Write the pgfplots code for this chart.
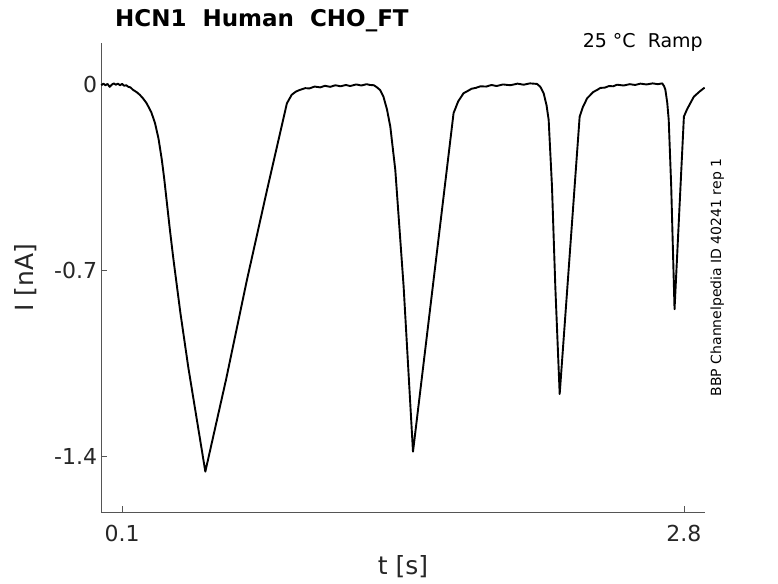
\documentclass[border=0pt]{standalone}
\usepackage{pgfplots}
\pgfplotsset{compat=1.18}
\usepackage{fontspec}
\setmainfont{DejaVu Sans}
\definecolor{axgray}{HTML}{555555}
\definecolor{lblgray}{HTML}{262626}
\begin{document}
\begin{tikzpicture}[x=1pt,y=1pt]
\path[use as bounding box] (0,0) rectangle (778,583);
\begin{axis}[
  at={(101.3pt,71pt)}, anchor=south west,
  scale only axis, width=603.4pt, height=469pt,
  xmin=0, xmax=2.9, ymin=-1.61, ymax=0.155,
  axis x line*=bottom, axis y line*=left,
  axis line style={-, draw=axgray, line width=0.8pt},
  tick style={draw=axgray, line width=0.8pt},
  tick align=inside, major tick length=6pt,
  xtick={0.1,2.8}, xticklabels={0.1,2.8},
  ytick={-1.4,-0.7,0}, yticklabels={-1.4,-0.7,{0\hspace{22pt}}},
  xticklabel style={anchor=base, yshift=-29.7pt, inner sep=0pt, text=lblgray, font=\fontsize{22}{26}\selectfont},
  yticklabel style={anchor=east, xshift=-4pt, inner sep=0pt, text=lblgray, font=\fontsize{22}{26}\selectfont},
  clip=false,
]
\addplot[black, line width=1.9pt, line join=round] coordinates {
(0.000,-0.004) (0.010,0.002) (0.020,-0.004) (0.030,0.001) (0.040,-0.010) (0.050,-0.002)
(0.060,0.003) (0.070,-0.002) (0.080,0.002) (0.090,-0.004) (0.100,0.001) (0.110,-0.006)
(0.120,-0.004) (0.130,-0.010) (0.140,-0.012) (0.152,-0.021) (0.170,-0.030) (0.185,-0.040)
(0.200,-0.053) (0.218,-0.072) (0.240,-0.105) (0.258,-0.146) (0.275,-0.205) (0.291,-0.285)
(0.303,-0.360) (0.315,-0.445) (0.330,-0.550) (0.346,-0.655) (0.380,-0.860) (0.418,-1.065)
(0.467,-1.300) (0.500,-1.458)
(0.600,-1.110) (0.699,-0.740) (0.796,-0.400) (0.892,-0.072) (0.915,-0.040) (0.935,-0.028)
(0.956,-0.021) (0.980,-0.015) (1.000,-0.016) (1.025,-0.009) (1.052,-0.012) (1.075,-0.006)
(1.100,-0.010) (1.125,-0.004) (1.150,-0.008) (1.175,-0.003) (1.196,-0.007) (1.225,-0.001)
(1.250,-0.005) (1.275,0.000) (1.292,-0.003) (1.310,-0.004) (1.325,-0.012) (1.340,-0.022)
(1.356,-0.047) (1.373,-0.095) (1.389,-0.160) (1.413,-0.323) (1.453,-0.762) (1.498,-1.383)
(1.600,-0.717) (1.693,-0.109) (1.715,-0.065) (1.741,-0.034) (1.760,-0.026) (1.780,-0.017)
(1.800,-0.014) (1.822,-0.008) (1.850,-0.009) (1.875,-0.003) (1.900,-0.007) (1.930,-0.001)
(1.966,-0.004) (2.000,0.002) (2.030,-0.002) (2.060,0.003) (2.094,0.001) (2.110,-0.010)
(2.126,-0.034) (2.140,-0.080) (2.150,-0.134) (2.166,-0.385) (2.182,-0.762) (2.203,-1.166)
(2.250,-0.655) (2.299,-0.122) (2.315,-0.085) (2.335,-0.053) (2.350,-0.041) (2.365,-0.029)
(2.380,-0.023) (2.399,-0.014) (2.420,-0.013) (2.440,-0.007) (2.460,-0.008) (2.479,-0.002)
(2.510,-0.005) (2.540,0.000) (2.565,-0.003) (2.591,0.002) (2.620,-0.001) (2.650,0.003)
(2.675,0.000) (2.696,0.003) (2.705,-0.008) (2.711,-0.021) (2.720,-0.070) (2.727,-0.134)
(2.739,-0.385) (2.755,-0.847) (2.800,-0.122) (2.812,-0.100) (2.825,-0.080) (2.848,-0.047)
(2.875,-0.028) (2.896,-0.015) (2.900,-0.014)
};
\end{axis}
\node[anchor=base west, inner sep=0pt, font=\fontsize{23}{27}\selectfont\bfseries] at (115,556.3) {HCN1\ \ Human\ \ CHO\_FT};
\node[anchor=base east, inner sep=0pt, font=\fontsize{19}{23}\selectfont] at (703,535.3) {25 °C\ \ Ramp};
\node[anchor=base, inner sep=0pt, rotate=90, font=\fontsize{14}{17}\selectfont] at (721,305.5) {BBP Channelpedia ID 40241 rep 1};
\node[anchor=base, inner sep=0pt, text=lblgray, font=\fontsize{25}{30}\selectfont] at (403,8.3) {t [s]};
\node[anchor=base, inner sep=0pt, rotate=90, text=lblgray, font=\fontsize{25}{30}\selectfont] at (33.4,305.5) {I [nA]};
\end{tikzpicture}
\end{document}
